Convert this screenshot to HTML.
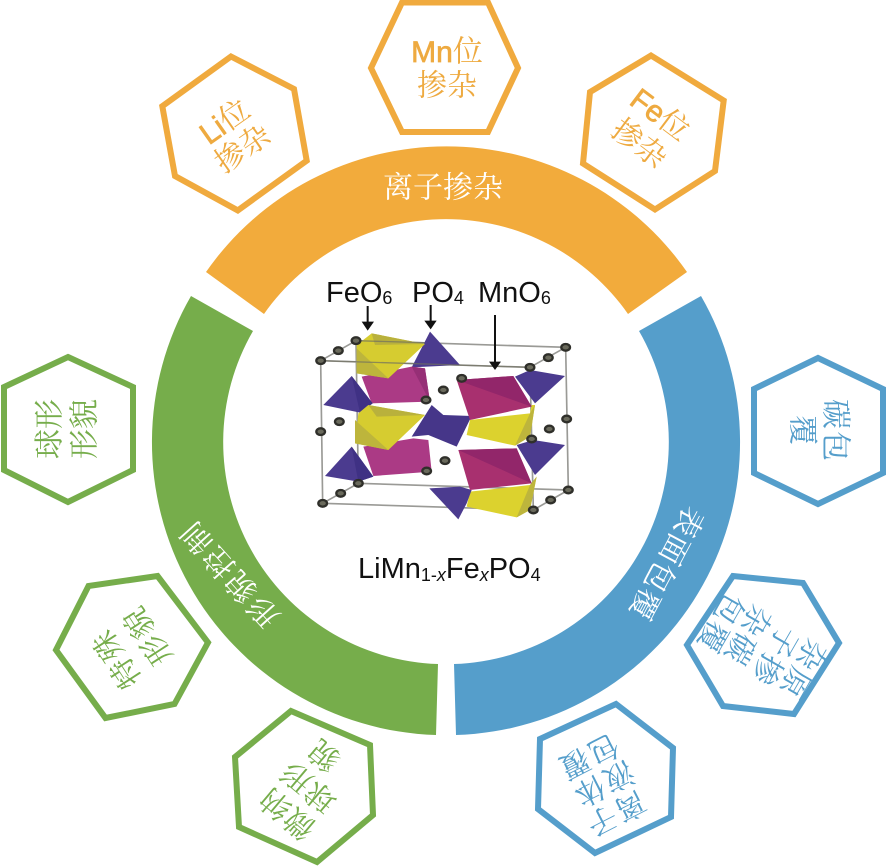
<!DOCTYPE html>
<html><head><meta charset="utf-8">
<style>
html,body{margin:0;padding:0;background:#fff;width:886px;height:867px;overflow:hidden}
svg{display:block}
.c{font-family:"Liberation Serif","Noto Serif CJK SC",serif;font-size:30px;text-anchor:middle;dominant-baseline:central}
.o{fill:#eeaa40}.g{fill:#76ad4b}.b{fill:#559ecb}.w{fill:#fff}
.lat{font-family:"Liberation Sans",sans-serif;stroke:#eeaa40;stroke-width:.7px}
.k{font-family:"Liberation Sans",sans-serif;fill:#111;font-size:29px}
.hex{fill:#fff;stroke-width:6;stroke-linejoin:miter}
</style></head><body>
<svg width="886" height="867" viewBox="0 0 886 867" xmlns="http://www.w3.org/2000/svg">
<path d="M206 272A293 293 0 0 1 687 272L628 314A222 222 0 0 0 264 314Z" fill="#f2ab3c"/>
<path d="M191 296A293 293 0 0 0 436 735L438 664A222 222 0 0 1 253 331Z" fill="#76ad4b"/>
<path d="M701 296A293 293 0 0 1 456 735L454 664A222 222 0 0 0 639 331Z" fill="#559ecb"/>

<g stroke="#f0aa3e" class="hex">
<polygon class="hex" points="231,56.5 294,89 306.7,160.7 237.8,210.4 175,176 162.3,106.2"/>
<polygon class="hex" points="402,2.5 488,2.5 518,68 488,132 402,132 371,68"/>
<polygon class="hex" points="651,55.5 723.7,100.5 715,171 655,209.5 583,163.5 590,92"/>
</g>
<g stroke="#76ad4b" class="hex">
<polygon class="hex" points="68,357 133,387 133,470 68,502 4,470 4,387"/>
<polygon class="hex" points="157.5,576 208,642.5 174.5,704 105.5,718 56,650 88.5,586"/>
<polygon class="hex" points="291,711 370,745 373,815 317,862 239,827 235,757"/>
</g>
<g stroke="#559ecb" class="hex">
<polygon class="hex" points="818,358 883,389 883,473 818,504 754,473 754,389"/>
<polygon class="hex" points="733,576 803,583 839,643 794,714 723,706 687,645"/>
<polygon class="hex" points="616,704 673,748 671,817 595,853 538,809 540,739"/>
</g>

<text class="c w" transform="translate(443 188)">离子掺杂</text>
<text class="c w" transform="translate(230 573) rotate(-132)" letter-spacing="3">形貌控制</text>
<text class="c w" transform="translate(666 563) rotate(118)" letter-spacing="1">表面包覆</text>

<text class="c o" transform="translate(447 52)"><tspan class="lat">Mn</tspan>位</text>
<text class="c o" transform="translate(447 86)">掺杂</text>
<text class="c o" transform="translate(225 122) rotate(-35)"><tspan class="lat">Li</tspan>位</text>
<text class="c o" transform="translate(243 149) rotate(-35)">掺杂</text>
<text class="c o" transform="translate(660 115) rotate(37)"><tspan class="lat">Fe</tspan>位</text>
<text class="c o" transform="translate(639 144) rotate(37)">掺杂</text>

<text class="c g" transform="translate(50 429) rotate(-90)">球形</text>
<text class="c g" transform="translate(85 429) rotate(-90)">形貌</text>
<text class="c g" transform="translate(117 658) rotate(-123)" letter-spacing="2">特殊</text>
<text class="c g" transform="translate(148 635) rotate(-123)" letter-spacing="2">形貌</text>
<text class="c g" transform="translate(288 813) rotate(-140)" letter-spacing="1">微纳</text>
<text class="c g" transform="translate(309 786) rotate(-140)" letter-spacing="1">球形</text>
<text class="c g" transform="translate(325 755) rotate(-140)">貌</text>

<text class="c b" transform="translate(835 431) rotate(90)" letter-spacing="2">碳包</text>
<text class="c b" transform="translate(802 430) rotate(90)">覆</text>
<text class="c b" transform="translate(802 669) rotate(120)" letter-spacing="2">杂原</text>
<text class="c b" transform="translate(774 656) rotate(120)" letter-spacing="2">子掺</text>
<text class="c b" transform="translate(747 635) rotate(120)" letter-spacing="2">杂碳</text>
<text class="c b" transform="translate(720 623) rotate(120)" letter-spacing="2">包覆</text>
<text class="c b" transform="translate(615 813) rotate(153)" letter-spacing="2">离子</text>
<text class="c b" transform="translate(603 783) rotate(153)" letter-spacing="2">液体</text>
<text class="c b" transform="translate(588 756) rotate(153)" letter-spacing="2">包覆</text>

<g transform="translate(300 270) scale(.33333)">
 <g fill="none" stroke="#9a9a96" stroke-width="5">
  <path d="M168 212L797 232L805 660L175 640ZM62 272L690 292L700 720L68 700ZM62 272L168 212M690 292L797 232M68 700L175 640M700 720L805 660"/>
 </g>
 <!-- left column -->
 <polygon points="390,185 480,285 335,292" fill="#4b3b8f"/>
 <polygon points="185,320 335,290 375,295 390,395 215,400" fill="#ab3a85"/>
 <polygon points="335,290 375,295 390,395" fill="#962f76"/>
 <polygon points="170,225 215,190 375,222 265,325 170,310" fill="#d6cc30"/>
 <polygon points="170,235 265,325 170,310" fill="#bdb53c"/>
 <polygon points="215,190 375,222 225,225" fill="#b9b13c"/>
 <polygon points="155,318 218,400 180,428 70,405" fill="#4b3b8f"/>
 <polygon points="155,318 218,400 180,428" fill="#3f3184"/>
 <polygon points="395,405 430,435 515,438 470,530 385,495 335,500" fill="#463689"/>
 <polygon points="190,530 340,505 385,510 395,605 220,618" fill="#ab3a85"/>
 <polygon points="175,430 205,405 375,435 265,540 165,520" fill="#d6cc30"/>
 <polygon points="165,450 265,540 165,520" fill="#bdb53c"/>
 <polygon points="205,405 375,435 230,440" fill="#b9b13c"/>
 <polygon points="155,530 220,620 175,635 75,618" fill="#4b3b8f"/>
 <polygon points="155,530 220,620 175,635" fill="#3f3184"/>
 <!-- right column -->
 <polygon points="645,320 690,300 795,318 705,400" fill="#4b3b8f"/>
 <polygon points="510,450 690,430 695,405 705,405 690,500 645,527 500,495" fill="#dcd22e"/>
 <polygon points="690,430 705,405 690,500 645,527" fill="#bdb53c"/>
 <polygon points="470,330 640,318 695,410 510,450" fill="#a8306f"/>
 <polygon points="470,330 640,318 695,410" fill="#92266a"/>
 <polygon points="650,525 700,510 795,525 705,615" fill="#4b3b8f"/>
 <polygon points="510,665 690,645 710,620 690,720 650,742 500,710" fill="#dcd22e"/>
 <polygon points="690,645 710,620 690,720 650,742" fill="#bdb53c"/>
 <polygon points="388,655 480,650 515,660 500,700 475,748" fill="#4b3b8f"/>
 <polygon points="475,540 650,535 695,640 510,660" fill="#a8306f"/>
 <polygon points="475,540 650,535 695,640" fill="#92266a"/>
 <path d="M62 272L690 292M168 212L375 218" fill="none" stroke="#6f6f60" stroke-width="4" opacity=".7"/>
 <g fill="#6a6a5c" stroke="#2f2f2a" stroke-width="7">
  <ellipse cx="62" cy="272" rx="13" ry="10"/><ellipse cx="115" cy="242" rx="13" ry="10"/><ellipse cx="168" cy="212" rx="13" ry="10"/>
  <ellipse cx="797" cy="232" rx="13" ry="10"/><ellipse cx="745" cy="263" rx="13" ry="10"/><ellipse cx="690" cy="292" rx="13" ry="10"/>
  <ellipse cx="62" cy="485" rx="13" ry="10"/><ellipse cx="118" cy="455" rx="13" ry="10"/><ellipse cx="430" cy="360" rx="13" ry="10"/>
  <ellipse cx="378" cy="390" rx="13" ry="10"/><ellipse cx="485" cy="325" rx="13" ry="10"/><ellipse cx="800" cy="447" rx="13" ry="10"/>
  <ellipse cx="748" cy="477" rx="13" ry="10"/><ellipse cx="695" cy="507" rx="13" ry="10"/><ellipse cx="435" cy="572" rx="13" ry="10"/>
  <ellipse cx="380" cy="603" rx="13" ry="10"/><ellipse cx="68" cy="700" rx="13" ry="10"/><ellipse cx="122" cy="670" rx="13" ry="10"/>
  <ellipse cx="175" cy="640" rx="13" ry="10"/><ellipse cx="805" cy="660" rx="13" ry="10"/><ellipse cx="752" cy="690" rx="13" ry="10"/>
  <ellipse cx="700" cy="720" rx="13" ry="10"/>
 </g>
 <g fill="#111" stroke="#111" stroke-width="6">
  <path d="M203 108V160M392 105V155M585 135V280" fill="none"/>
  <polygon stroke="none" points="185,155 222,155 203,182"/>
  <polygon stroke="none" points="373,152 410,152 392,178"/>
  <polygon stroke="none" points="567,275 603,275 585,300"/>
 </g>
</g>

<text class="k" x="326" y="302">FeO<tspan style="font-size:18px" dy="2">6</tspan></text>
<text class="k" x="412" y="302">PO<tspan style="font-size:18px" dy="2">4</tspan></text>
<text class="k" x="478" y="302">MnO<tspan style="font-size:18px" dy="2">6</tspan></text>
<text class="k" x="358" y="578">LiMn<tspan dy="3" style="font-size:18px">1-<tspan font-style="italic">x</tspan></tspan><tspan dy="-3">Fe</tspan><tspan dy="3" font-style="italic" style="font-size:18px">x</tspan><tspan dy="-3">PO</tspan><tspan dy="3" style="font-size:18px">4</tspan></text>
</svg>
</body></html>
